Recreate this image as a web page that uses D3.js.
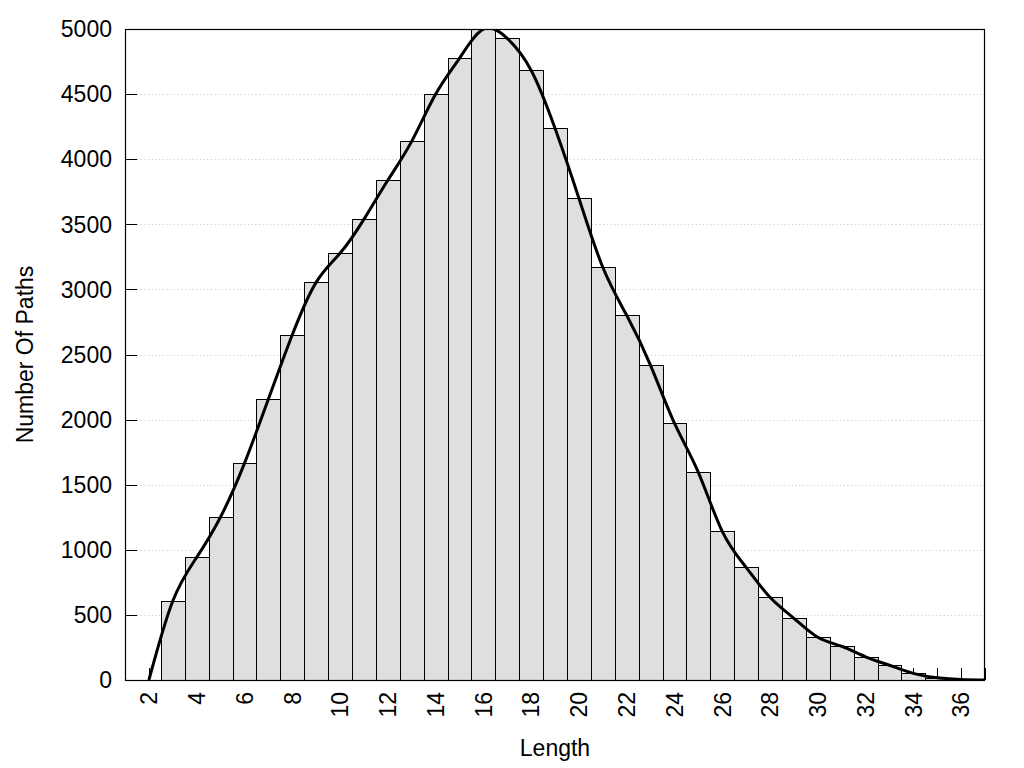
<!DOCTYPE html>
<html>
<head>
<meta charset="utf-8">
<script src="https://cdn.jsdelivr.net/npm/d3@7"></script>
<style>
  html, body { margin: 0; padding: 0; background: #fff; }
  svg { display: block; font-family: "Liberation Sans", Arial, sans-serif; }
</style>
</head>
<body>
<svg id="chart" width="1024" height="768"></svg>
<script>
// Data
const lengths = [2, 3, 4, 5, 6, 7, 8, 9, 10, 11, 12, 13, 14, 15, 16, 17, 18, 19, 20,
                 21, 22, 23, 24, 25, 26, 27, 28, 29, 30, 31, 32, 33, 34, 35, 36, 37];
const counts  = [0, 607, 942, 1252, 1664, 2156, 2650, 3054, 3277, 3538, 3838, 4137, 4498, 4775, 4998, 4928, 4683, 4237, 3700,
                 3170, 2801, 2417, 1972, 1595, 1142, 865, 635, 474, 328, 259, 178, 113, 51, 18, 4, 0];
const yTicks = [0, 500, 1000, 1500, 2000, 2500, 3000, 3500, 4000, 4500, 5000];
const xTickValues = d3.range(2, 38);
const xTickLabels = [2, 4, 6, 8, 10, 12, 14, 16, 18, 20, 22, 24, 26, 28, 30, 32, 34, 36];
const xTitle = "Length";
const yTitle = "Number Of Paths";

const L = 125, R = 985, T = 29, B = 680;
const svg = d3.select("#chart");
const x = d3.scaleLinear().domain([1, 37]).range([L, R]);
const y = d3.scaleLinear().domain([0, 5000]).range([B, T]);
const fs = 23;

svg.append("defs").append("clipPath").attr("id", "plotclip")
  .append("rect").attr("x", L).attr("y", T).attr("width", R - L).attr("height", B - T);

// Grid lines (dotted) behind bars
svg.append("g").selectAll("line").data(yTicks.filter(v => v > 0 && v < 5000)).join("line")
  .attr("x1", L + 12).attr("x2", R)
  .attr("y1", d => Math.round(y(d)) + 0.5).attr("y2", d => Math.round(y(d)) + 0.5)
  .attr("stroke", "#c4c4c4").attr("stroke-width", 1).attr("stroke-dasharray", "1,2.7");

// Y ticks inward (left)
svg.append("g").selectAll("line").data(yTicks).join("line")
  .attr("x1", L).attr("x2", L + 12)
  .attr("y1", d => Math.round(y(d)) + 0.5).attr("y2", d => Math.round(y(d)) + 0.5)
  .attr("stroke", "#000").attr("stroke-width", 1);

// X ticks inward (bottom)
svg.append("g").selectAll("line").data(xTickValues).join("line")
  .attr("x1", d => Math.round(x(d)) + 0.5).attr("x2", d => Math.round(x(d)) + 0.5)
  .attr("y1", B).attr("y2", B - 12)
  .attr("stroke", "#000").attr("stroke-width", 1);

// Bars
const barData = lengths.map((l, i) => ({ l, c: counts[i] })).filter(d => d.c > 0);
svg.append("g").attr("clip-path", "url(#plotclip)").selectAll("rect").data(barData).join("rect")
  .attr("x", d => Math.round(x(d.l - 0.5)) + 0.5)
  .attr("width", d => Math.round(x(d.l + 0.5)) - Math.round(x(d.l - 0.5)))
  .attr("y", d => Math.round(y(d.c)) + 0.5)
  .attr("height", d => B - Math.round(y(d.c)))
  .attr("fill", "#dfdfdf").attr("stroke", "#000").attr("stroke-width", 1);

// Smooth curve
const line = d3.line().x((d, i) => x(lengths[i])).y(d => y(Math.max(0, d))).curve(d3.curveNatural);
svg.append("path").attr("clip-path", "url(#plotclip)")
  .attr("d", line(counts))
  .attr("fill", "none").attr("stroke", "#000").attr("stroke-width", 3).attr("stroke-linejoin", "round");

// Frame
svg.append("rect").attr("x", L + 0.5).attr("y", T + 0.5).attr("width", R - L - 1).attr("height", B - T)
  .attr("fill", "none").attr("stroke", "#000").attr("stroke-width", 1.2);

// Y tick labels
svg.append("g").selectAll("text").data(yTicks).join("text")
  .attr("x", L - 13).attr("y", d => y(d)).attr("dy", "0.36em")
  .attr("text-anchor", "end").attr("font-size", fs).attr("fill", "#000")
  .text(d => d);

// X tick labels (rotated)
svg.append("g").selectAll("text").data(xTickLabels).join("text")
  .attr("transform", d => `translate(${x(d)},${B + 12}) rotate(-90)`)
  .attr("dy", "0.36em").attr("text-anchor", "end").attr("font-size", fs).attr("fill", "#000")
  .text(d => d);

// Axis titles
svg.append("text").attr("x", (L + R) / 2).attr("y", 756).attr("text-anchor", "middle")
  .attr("font-size", fs).attr("fill", "#000").text(xTitle);
svg.append("text").attr("transform", `translate(25,${(T + B) / 2}) rotate(-90)`)
  .attr("dy", "0.36em").attr("text-anchor", "middle").attr("font-size", fs).attr("fill", "#000")
  .text(yTitle);
</script>
</body>
</html>
